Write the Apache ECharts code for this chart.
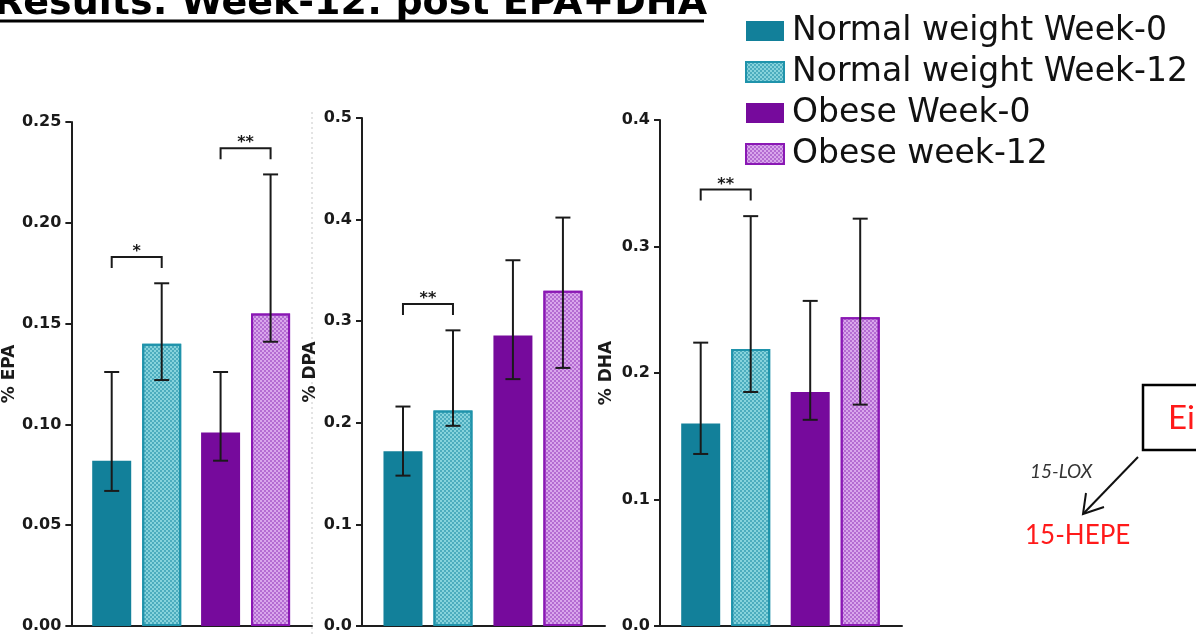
<!DOCTYPE html>
<html>
<head>
<meta charset="utf-8">
<script src="https://cdn.jsdelivr.net/npm/echarts@6/dist/echarts.min.js"></script>
<style>
  html, body { margin: 0; padding: 0; background: #fff; }
  #myChart { width: 1196px; height: 636px; }
</style>
</head>
<body>
<div id="myChart"></div>
<script>
// groups and series (bar order inside every panel)
var groups = ['Normal weight', 'Obese'];
var seriesNames = ['Normal weight Week-0', 'Normal weight Week-12', 'Obese Week-0', 'Obese week-12'];

// % EPA
var epaMean = [0.082, 0.140, 0.096, 0.155];
var epaLow  = [0.067, 0.122, 0.082, 0.141];
var epaHigh = [0.126, 0.170, 0.126, 0.224];
var epaSig  = [[0, 0.183, '*'], [1, 0.237, '**']];

// % DPA
var dpaMean = [0.172, 0.212, 0.286, 0.330];
var dpaLow  = [0.148, 0.197, 0.243, 0.254];
var dpaHigh = [0.216, 0.291, 0.360, 0.402];
var dpaSig  = [[0, 0.317, '**']];

// % DHA
var dhaMean = [0.160, 0.219, 0.185, 0.244];
var dhaLow  = [0.136, 0.185, 0.163, 0.175];
var dhaHigh = [0.224, 0.324, 0.257, 0.322];
var dhaSig  = [[0, 0.345, '**']];

var BAR_W = 39;     // px
var BAR_GAP = 11;   // px between week-0 and week-12 bar
var CAP_W = 15;

var panels = [
    {name: '% EPA', max: 0.25, interval: 0.05, decimals: 2, mean: epaMean, low: epaLow, high: epaHigh, sig: epaSig,
        left: 68, top: 122, width: 244, nameGap: 52},
    {name: '% DPA', max: 0.5, interval: 0.1, decimals: 1, mean: dpaMean, low: dpaLow, high: dpaHigh, sig: dpaSig,
        left: 362, top: 118, width: 243, nameGap: 43},
    {name: '% DHA', max: 0.4, interval: 0.1, decimals: 1, mean: dhaMean, low: dhaLow, high: dhaHigh, sig: dhaSig,
        left: 660, top: 120, width: 242, nameGap: 45}
];

var barStyles = [
    {color: '#12809a'},
    {color: '#86d3dc', borderColor: '#1f93ab', borderWidth: 2,
        decal: {symbol: 'rect', symbolSize: 1, dashArrayX: [[2, 2], [0, 2, 2, 0]], dashArrayY: [2, 0], color: 'rgba(30,140,165,0.55)'}},
    {color: '#760a9c'},
    {color: '#d9a6ec', borderColor: '#8a18b4', borderWidth: 2,
        decal: {symbol: 'rect', symbolSize: 1, dashArrayX: [[2, 2], [0, 2, 2, 0]], dashArrayY: [2, 0], color: 'rgba(150,60,190,0.55)'}}
];

var AXIS_BOTTOM = 626;
var axisColor = '#1e1e1e';

var grids = [], xAxes = [], yAxes = [], series = [];

function makeErrorRender() {
    return function (params, api) {
        var g = api.value(0), w = api.value(1);
        var cx = api.coord([g, 0])[0] + (w - 0.5) * (BAR_W + BAR_GAP);
        var top = api.coord([g, api.value(3)])[1];
        var bot = api.coord([g, api.value(2)])[1];
        var h = CAP_W / 2;
        var st = {stroke: '#1a1a1a', lineWidth: 2};
        return {
            type: 'group',
            children: [
                {type: 'line', shape: {x1: cx, y1: top, x2: cx, y2: bot}, style: st},
                {type: 'line', shape: {x1: cx - h, y1: top, x2: cx + h, y2: top}, style: st},
                {type: 'line', shape: {x1: cx - h, y1: bot, x2: cx + h, y2: bot}, style: st}
            ]
        };
    };
}

function makeSigRender(sig) {
    return function (params, api) {
        var g = api.value(0);
        var p = api.coord([g, api.value(1)]);
        var off = (BAR_W + BAR_GAP) / 2;
        var x1 = p[0] - off, x2 = p[0] + off, y = p[1];
        return {
            type: 'group',
            children: [
                {type: 'polyline', shape: {points: [[x1, y + 11], [x1, y], [x2, y], [x2, y + 11]]},
                    style: {stroke: '#1a1a1a', lineWidth: 2, fill: null}},
                {type: 'text', x: p[0], y: y + 3,
                    style: {text: sig[params.dataIndex][2], fill: '#1a1a1a', font: 'bold 16px "DejaVu Sans"',
                        align: 'center', verticalAlign: 'bottom'}}
            ]
        };
    };
}

panels.forEach(function (p, k) {
    grids.push({left: p.left, top: p.top, width: p.width, height: AXIS_BOTTOM - p.top});
    // one x axis for each group so the two weeks sit side by side
    [0, 1].forEach(function (j) {
        xAxes.push({
            type: 'value', gridIndex: k, min: -0.6, max: 1.61, show: j === 0,
            axisLine: {show: true, onZero: false, lineStyle: {color: axisColor, width: 2}},
            axisTick: {show: false}, axisLabel: {show: false}, splitLine: {show: false}
        });
    });
    yAxes.push({
        type: 'value', gridIndex: k, min: 0, max: p.max, interval: p.interval,
        name: p.name, nameLocation: 'middle', nameGap: p.nameGap,
        nameTextStyle: {fontFamily: 'DejaVu Sans', fontWeight: 'bold', fontSize: 17, color: '#1a1a1a'},
        axisLine: {show: true, onZero: false, lineStyle: {color: axisColor, width: 2}},
        axisTick: {show: true, length: 6, lineStyle: {color: axisColor, width: 2}},
        axisLabel: {
            margin: 10, fontFamily: 'DejaVu Sans', fontWeight: 'bold', fontSize: 16, color: '#1a1a1a',
            formatter: (function (d) { return function (v) { return v.toFixed(d); }; })(p.decimals)
        },
        splitLine: {show: false}
    });

    seriesNames.forEach(function (name, i) {
        var g = i < 2 ? 0 : 1;
        series.push({
            name: name, type: 'bar',
            xAxisIndex: k * 2 + g, yAxisIndex: k,
            barWidth: BAR_W, barGap: (BAR_GAP / BAR_W * 100) + '%',
            itemStyle: barStyles[i],
            data: [[g, p.mean[i]]],
            z: 2
        });
    });

    var errData = [];
    for (var i = 0; i < 4; i++) {
        errData.push([i < 2 ? 0 : 1, i % 2, p.low[i], p.high[i]]);
    }
    series.push({
        type: 'custom', xAxisIndex: k * 2, yAxisIndex: k,
        renderItem: makeErrorRender(), data: errData, z: 5, silent: true
    });
    series.push({
        type: 'custom', xAxisIndex: k * 2, yAxisIndex: k,
        renderItem: makeSigRender(p.sig),
        data: p.sig.map(function (s) { return [s[0], s[1]]; }), z: 5, silent: true
    });
});

var myChart = echarts.init(document.getElementById('myChart'));

var option = {
    animation: false,
    backgroundColor: '#fff',
    grid: grids,
    xAxis: xAxes,
    yAxis: yAxes,
    legend: {
        data: seriesNames,
        orient: 'vertical',
        left: 745, top: 13, padding: 0,
        itemWidth: 38, itemHeight: 20, itemGap: 5,
        icon: 'rect', selectedMode: false,
        textStyle: {fontFamily: 'DejaVu Sans', fontSize: 33, color: '#111', lineHeight: 36, padding: [0, 0, 0, 3]}
    },
    graphic: [
        // slide title, cut at the top edge
        {type: 'text', x: -6, y: 4,
            style: {text: 'Results: Week-12: post EPA+DHA', font: 'bold 38px "DejaVu Sans"', fill: '#000',
                verticalAlign: 'middle'}},
        {type: 'line', shape: {x1: 0, y1: 21, x2: 704, y2: 21}, style: {stroke: '#000', lineWidth: 3}},
        // thin dotted separator after the first panel
        {type: 'line', shape: {x1: 312, y1: 112, x2: 312, y2: 636},
            style: {stroke: '#c8c8c8', lineWidth: 1, lineDash: [2, 3]}},
        // pathway sketch at the right edge
        {type: 'rect', shape: {x: 1143, y: 385, width: 80, height: 65},
            style: {stroke: '#000', lineWidth: 2.5, fill: '#fff'}},
        {type: 'text', x: 1168, y: 418,
            style: {text: 'Eicosapentaenoic acid', font: '33px Lato', fill: '#ff1a1a', verticalAlign: 'middle'}},
        {type: 'text', x: 1030, y: 472,
            style: {text: '15-LOX', font: 'italic 19px Lato', fill: '#333', verticalAlign: 'middle'}},
        {type: 'line', shape: {x1: 1138, y1: 457, x2: 1084, y2: 513}, style: {stroke: '#111', lineWidth: 2}},
        {type: 'polyline', shape: {points: [[1086, 493], [1083, 514], [1104, 507]]},
            style: {stroke: '#111', lineWidth: 2, fill: null}},
        {type: 'text', x: 1025, y: 536,
            style: {text: '15-HEPE', font: '26px Lato', fill: '#ff1a1a', verticalAlign: 'middle'}}
    ],
    series: series
};

myChart.setOption(option);
</script>
</body>
</html>
